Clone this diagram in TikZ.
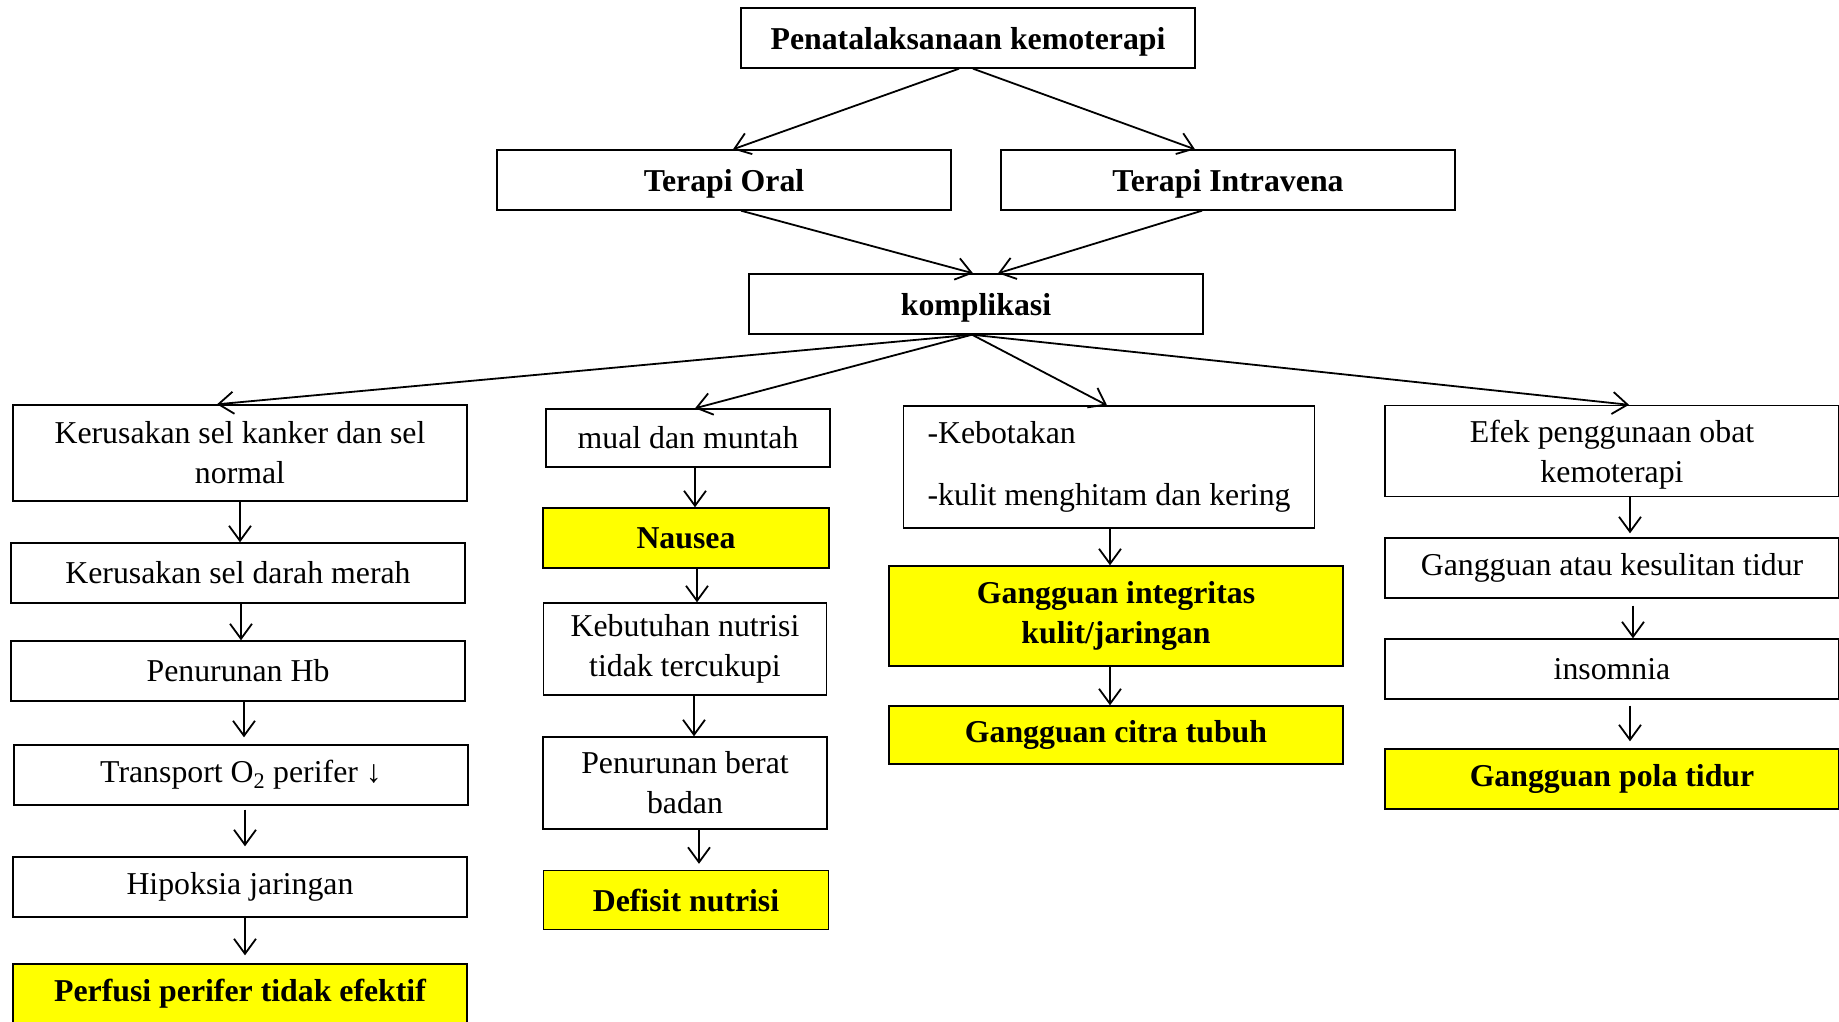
\documentclass[tikz,border=0pt]{standalone}
\usepackage{fontspec}
\setmainfont{Liberation Serif}
\definecolor{hlyellow}{RGB}{255, 255, 0}
\usetikzlibrary{arrows.meta, calc, positioning}

\begin{document}
\begin{tikzpicture}[x=1pt, y=-1pt,
    box/.style={draw, line width=1.4pt, minimum width=454pt, minimum height=60pt, inner sep=4pt, align=center, font=\fontsize{31.8}{40}\selectfont},
    boxb/.style={box, font=\fontsize{31.8}{40}\selectfont\bfseries},
    hl/.style={boxb, fill=hlyellow},
    arr/.style={-{Straight Barb[length=15pt, width=22pt]}, line width=1.8pt}]
  \useasboundingbox (0,0) rectangle (1839,1022);

  % Top part
  \node[boxb, text depth=0pt] (top) at (968,38) {Penatalaksanaan kemoterapi};
  \node[boxb, text depth=0pt] (oral) at (724,180) {Terapi Oral};
  \node[boxb, text depth=0pt] (iv) at (1228,180) {Terapi Intravena};
  \node[boxb, text depth=-3pt] (kompl) at (976,304) {komplikasi};

  \draw[arr] ($(top.south)+(-9,0)$) -- ($(oral.north)+(9,0)$);
  \draw[arr] ($(top.south)+(5,0)$) -- ($(iv.north)+(-33,0)$);
  \draw[arr] ($(oral.south)+(17,0)$) -- ($(kompl.north)+(-3,0)$);
  \draw[arr] ($(iv.south)+(-26,0)$) -- ($(kompl.north)+(22,0)$);

  % Column 1
  \node[box, minimum height=96pt] (sel) at (240,453) {Kerusakan sel kanker dan sel\\normal};
  \node[box] (darah) at (238,573) {Kerusakan sel darah merah};
  \node[box] (hb) at (238,671) {Penurunan Hb};
  \node[box] (tro) at (241,775) {Transport O\textsubscript{2} perifer ↓};
  \node[box] (hipo) at (240,887) {Hipoksia jaringan};
  \node[hl] (perfusi) at (240,994) {Perfusi perifer tidak efektif};

  % Column 2
  \node[box, minimum width=284pt, minimum height=58pt] (mual) at (688,438) {mual dan muntah};
  \node[hl, minimum width=286pt] (nausea) at (686,538) {Nausea};
  \node[box, minimum width=283pt, minimum height=92pt] (nutri) at (685,649) {Kebutuhan nutrisi\\tidak tercukupi};
  \node[box, minimum width=284pt, minimum height=92pt] (berat) at (685,783) {Penurunan berat\\badan};
  \node[hl, minimum width=285pt, minimum height=59pt] (defisit) at (686,900) {Defisit nutrisi};

  % Column 3
  \node[box, minimum width=411pt, minimum height=122pt, align=left] (botak) at (1109,467) {-Kebotakan\\[22pt]-kulit menghitam dan kering};
  \node[hl, minimum height=100pt] (integ) at (1116,616) {Gangguan integritas\\kulit/jaringan};
  \node[hl, minimum height=58pt] (citra) at (1116,735) {Gangguan citra tubuh};

  % Column 4
  \node[box, minimum height=91pt, text depth=-6pt] (efek) at (1612,451) {Efek penggunaan obat\\kemoterapi};
  \node[box] (tidur) at (1612,568) {Gangguan atau kesulitan tidur};
  \node[box] (insom) at (1612,669) {insomnia};
  \node[hl] (pola) at (1612,779) {Gangguan pola tidur};

  % Fan out from komplikasi
  \draw[arr] ($(kompl.south)+(-4,0)$) -- ($(sel.north)+(-23,0)$);
  \draw[arr] ($(kompl.south)+(-4,0)$) -- ($(mual.north)+(7,0)$);
  \draw[arr] ($(kompl.south)+(-4,0)$) -- ($(botak.north)+(-2,0)$);
  \draw[arr] ($(kompl.south)+(-4,0)$) -- ($(efek.north)+(17,0)$);

  % Column arrows
  \draw[arr] (sel.south) -- (sel.south |- darah.north);
  \draw[arr] ([xshift=3pt]darah.south) -- ([xshift=3pt]darah.south |- hb.north);
  \draw[arr, shorten >=7pt] ([xshift=6pt]hb.south) -- ([xshift=6pt]hb.south |- tro.north);
  \draw[arr, shorten <=4pt, shorten >=10pt] ([xshift=4pt]tro.south) -- ([xshift=4pt]tro.south |- hipo.north);
  \draw[arr, shorten >=8pt] ([xshift=5pt]hipo.south) -- ([xshift=5pt]hipo.south |- perfusi.north);

  \draw[arr] ([xshift=7pt]mual.south) -- ([xshift=7pt]mual.south |- nausea.north);
  \draw[arr] ([xshift=11pt]nausea.south) -- ([xshift=11pt]nausea.south |- nutri.north);
  \draw[arr] ([xshift=9pt]nutri.south) -- ([xshift=9pt]nutri.south |- berat.north);
  \draw[arr, shorten >=6pt] ([xshift=14pt]berat.south) -- ([xshift=14pt]berat.south |- defisit.north);

  \draw[arr] ([xshift=1pt]botak.south) -- ([xshift=1pt]botak.south |- integ.north);
  \draw[arr] ([xshift=-6pt]integ.south) -- ([xshift=-6pt]integ.south |- citra.north);

  \draw[arr, shorten >=4pt] ([xshift=18pt]efek.south) -- ([xshift=18pt]efek.south |- tidur.north);
  \draw[arr, shorten <=7pt] ([xshift=21pt]tidur.south) -- ([xshift=21pt]tidur.south |- insom.north);
  \draw[arr, shorten <=6pt, shorten >=7pt] ([xshift=18pt]insom.south) -- ([xshift=18pt]insom.south |- pola.north);
\end{tikzpicture}
\end{document}
